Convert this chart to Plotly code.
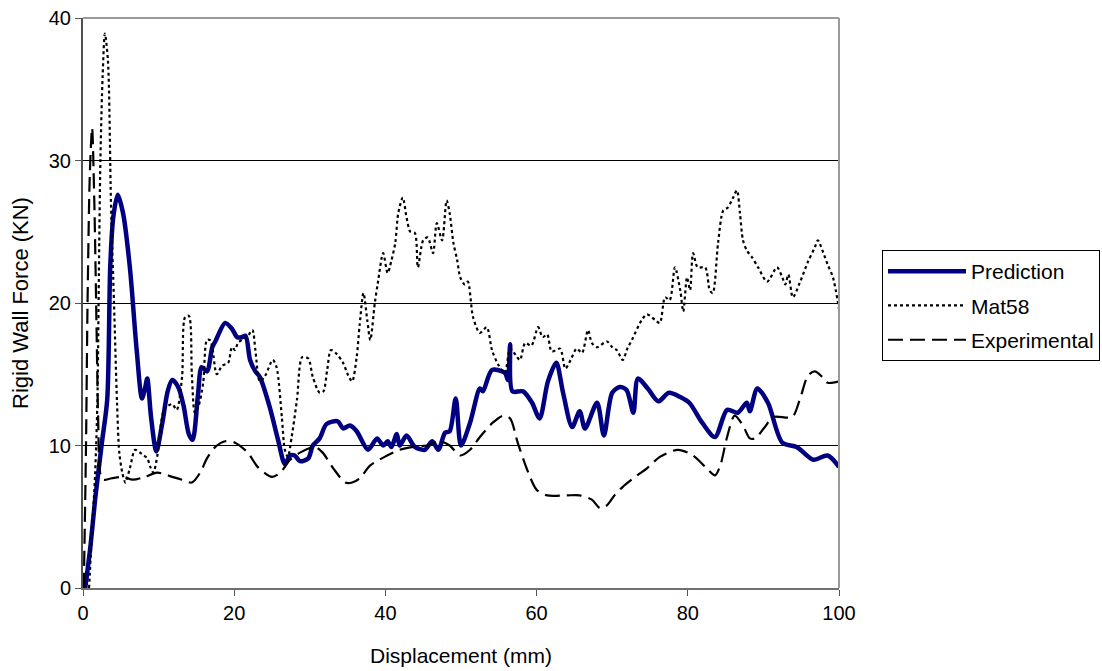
import plotly.graph_objects as go

# Rigid wall force vs displacement: model prediction, Mat58 material model, test data
pred_x = [0.3, 1.0, 1.6, 2.5, 3.2, 3.6, 4.0, 4.6, 5.3, 6.2, 7.1, 7.8, 8.2, 8.5, 9.0, 9.7,
          10.5, 11.2, 11.8, 12.6, 13.3, 14.0, 14.5, 15.2, 15.7, 16.4, 17.1, 17.5, 18.8,
          19.7, 20.4, 21.0, 21.5, 22.1, 22.8, 23.4, 24.7, 25.8, 26.7, 27.4, 28.0, 28.7,
          29.8, 30.4, 31.3, 32.2, 33.7, 34.4, 35.3, 36.2, 37.7, 38.9, 39.7, 40.3, 40.8,
          41.5, 41.9, 42.8, 43.9, 45.2, 46.2, 47.0, 47.9, 48.5, 49.3, 50.0, 51.2, 52.5,
          52.9, 54.1, 55.8, 56.2, 56.5, 56.8, 58.2, 59.4, 60.4, 61.5, 62.6, 63.5, 64.7,
          65.7, 66.4, 68.0, 68.9, 70.0, 71.0, 71.9, 72.8, 73.4, 74.7, 76.1, 77.5, 79.0,
          80.2, 81.9, 83.6, 85.2, 86.6, 87.8, 88.2, 89.2, 90.6, 92.5, 94.4, 96.6, 98.5, 100.0]
pred_y = [0.0, 3.0, 6.2, 10.2, 13.2, 22.5, 26.0, 27.6, 26.3, 22.5, 16.7, 13.3, 14.0, 14.7, 12.0, 9.6,
          11.6, 13.8, 14.6, 14.1, 12.8, 10.8, 10.4, 13.5, 15.5, 15.2, 16.9, 17.3, 18.6,
          18.2, 17.6, 17.6, 17.7, 16.0, 15.2, 14.8, 12.7, 10.4, 8.7, 9.3, 9.3, 8.9,
          9.1, 10.0, 10.5, 11.5, 11.7, 11.2, 11.4, 11.0, 9.7, 10.5, 10.0, 10.3, 9.9,
          10.8, 10.0, 10.7, 9.9, 9.7, 10.3, 9.7, 10.9, 11.0, 13.3, 10.0, 11.6, 14.0,
          13.8, 15.3, 15.1, 14.6, 17.1, 13.8, 13.8, 13.0, 11.9, 14.5, 15.8, 13.7, 11.3,
          12.4, 11.2, 13.0, 10.7, 13.7, 14.1, 13.9, 12.3, 14.7, 14.0, 13.1, 13.7, 13.4,
          13.0, 11.6, 10.6, 12.5, 12.3, 13.0, 12.4, 14.0, 13.0, 10.2, 9.9, 9.0, 9.3, 8.5]

mat_x = [0.8, 1.2, 1.6, 1.9, 2.1, 2.3, 2.6, 2.9, 3.3, 3.7, 4.1, 4.5, 4.8, 5.2, 5.6, 6.2, 6.9,
         7.8, 8.5, 8.9, 9.3, 9.9, 10.4, 10.8, 11.8, 12.4, 13.1, 13.5, 14.0, 14.4, 14.8,
         15.3, 15.9, 16.4, 16.8, 17.1, 17.7, 18.4, 19.2, 19.7, 20.1, 20.5, 21.0, 21.7,
         22.4, 22.8, 23.4, 24.1, 25.1, 25.6, 26.3, 26.7, 27.1, 27.6, 28.3, 29.0, 29.8,
         30.4, 31.3, 31.8, 32.3, 32.8, 33.6, 34.4, 35.1, 35.6, 36.2, 36.6, 37.1, 37.6,
         38.0, 38.6, 39.0, 39.7, 40.3, 40.8, 41.3, 41.7, 42.3, 42.8, 43.3, 43.9, 44.3,
         45.0, 45.6, 46.3, 46.8, 47.5, 48.1, 48.5, 49.0, 49.5, 49.9, 50.5, 50.9, 51.6,
         52.5, 53.4, 54.1, 55.0, 55.8, 56.5, 57.3, 57.8, 58.5, 59.3, 60.2, 60.8, 61.4,
         62.0, 63.1, 63.8, 64.5, 65.3, 66.0, 66.8, 67.3, 68.0, 69.3, 70.0, 70.6, 71.4,
         72.0, 72.6, 73.9, 74.6, 75.7, 76.3, 77.0, 77.6, 78.3, 79.0, 79.4, 79.9, 80.3,
         80.7, 81.3, 82.3, 82.9, 83.3, 84.0, 84.7, 85.3, 86.0, 86.5, 86.9, 87.3, 87.8,
         88.5, 89.3, 90.5, 91.8, 92.5, 92.9, 93.3, 93.9, 94.8, 95.9, 96.8, 97.2, 97.8,
         98.5, 99.2, 100.0]
mat_y = [0.0, 4.0, 8.0, 13.0, 22.0, 30.0, 36.0, 38.9, 37.0, 27.0, 20.0, 13.0, 9.5, 8.1, 7.4, 8.4, 9.7,
         9.4, 9.1, 8.5, 8.1, 9.5, 11.8, 12.6, 12.9, 12.5, 14.8, 19.0, 19.1, 15.0, 12.3,
         12.8, 14.4, 17.4, 17.4, 16.9, 15.0, 15.6, 15.8, 16.9, 16.7, 17.2, 17.4, 17.6,
         18.1, 16.7, 14.5, 14.9, 16.0, 15.5, 12.0, 9.7, 9.2, 10.6, 13.2, 16.2, 16.1,
         14.8, 13.7, 13.8, 15.3, 16.7, 16.4, 15.8, 14.9, 14.5, 16.2, 18.5, 20.7, 18.8,
         17.4, 20.0, 21.4, 23.5, 22.1, 23.0, 24.2, 26.3, 27.4, 26.0, 25.0, 24.9, 22.5,
         24.4, 24.6, 23.5, 25.6, 24.4, 27.2, 26.3, 24.2, 23.0, 21.8, 21.3, 21.5, 19.0,
         17.9, 18.3, 16.7, 15.6, 15.1, 16.8, 16.3, 16.0, 17.2, 17.0, 18.3, 17.6, 17.8,
         16.6, 16.8, 15.4, 16.0, 16.8, 16.5, 18.1, 17.2, 16.9, 17.3, 16.9, 16.7, 16.0,
         16.8, 17.4, 18.8, 19.2, 18.8, 18.6, 20.4, 20.2, 22.5, 20.9, 19.4, 21.8, 20.9,
         23.5, 22.5, 22.5, 20.9, 20.7, 24.2, 26.5, 26.7, 27.4, 27.9, 26.3, 24.4, 23.7,
         23.2, 22.5, 21.5, 22.5, 21.8, 21.3, 22.0, 20.4, 21.4, 22.9, 23.9, 24.4, 23.7,
         22.7, 21.8, 19.6]

exp_x = [0.1, 0.4, 0.6, 0.9, 1.2, 1.5, 1.8, 2.0, 2.3, 2.7, 3.8, 5.2, 6.6, 8.2, 9.8, 11.8,
         13.1, 14.4, 15.5, 16.4, 17.5, 18.8, 20.1, 21.8, 23.1, 25.0, 26.1, 27.4, 28.7,
         30.7, 31.7, 33.1, 34.7, 35.6, 36.6, 38.0, 39.9, 41.9, 43.7, 45.5, 47.2, 48.5,
         49.9, 51.2, 52.5, 54.2, 55.6, 56.5, 57.5, 58.9, 60.0, 61.4, 64.0, 65.7, 67.3,
         68.4, 69.3, 70.3, 71.4, 73.3, 74.6, 76.3, 78.7, 80.7, 82.5, 83.6, 84.3, 85.2,
         86.2, 87.3, 88.2, 88.9, 90.2, 91.3, 93.8, 94.8, 95.9, 96.8, 97.8, 98.5, 100.0]
exp_y = [0.0, 10.0, 20.0, 29.0, 32.3, 27.0, 18.0, 12.0, 8.0, 7.6, 7.7, 7.8, 7.6, 7.8, 8.1, 7.8,
         7.6, 7.4, 8.1, 9.1, 9.9, 10.3, 10.2, 9.5, 8.5, 7.8, 8.1, 9.0, 9.5,
         9.9, 9.5, 8.4, 7.4, 7.4, 7.7, 8.6, 9.2, 9.7, 9.9, 10.0, 10.3, 10.0,
         9.3, 9.7, 10.6, 11.6, 12.1, 11.9, 10.2, 8.1, 6.9, 6.5, 6.5, 6.5, 6.2,
         5.6, 5.8, 6.5, 7.1, 7.9, 8.4, 9.2, 9.7, 9.3, 8.4, 7.9, 8.6, 10.6,
         12.1, 11.4, 10.5, 10.5, 11.3, 12.0, 12.0, 13.2, 14.9, 15.2, 14.8, 14.4, 14.5]

x_ticks = [0, 20, 40, 60, 80, 100]
y_ticks = [0, 10, 20, 30, 40]

FONT = "Liberation Sans, Arial, sans-serif"

fig = go.Figure()
fig.add_trace(go.Scatter(x=pred_x, y=pred_y, name="Prediction", mode="lines",
                         line=dict(color="#000080", width=4.5, shape="spline", smoothing=0.8),
                         legendgroup="a"))
fig.add_trace(go.Scatter(x=mat_x, y=mat_y, name="Mat58", mode="lines",
                         line=dict(color="black", width=2.2, dash="3px,3px", shape="spline", smoothing=0.8),
                         legendgroup="b"))
fig.add_trace(go.Scatter(x=exp_x, y=exp_y, name="Experimental", mode="lines",
                         line=dict(color="black", width=2.2, dash="15px,7px", shape="spline", smoothing=0.8),
                         legendgroup="c"))

# plot-area frame: grey top and right edges
fig.add_shape(type="line", xref="paper", yref="paper", x0=0, x1=1, y0=1, y1=1,
              line=dict(color="#9a9a9a", width=2), layer="above")
fig.add_shape(type="line", xref="paper", yref="paper", x0=1, x1=1, y0=0, y1=1,
              line=dict(color="#9a9a9a", width=2), layer="above")

fig.update_layout(
    template="none",
    width=1102, height=671,
    margin=dict(l=83, r=263, t=18, b=83, autoexpand=False),
    paper_bgcolor="white", plot_bgcolor="white",
    font=dict(family=FONT, size=20, color="black"),
    showlegend=True,
    legend=dict(xref="container", yref="container",
                x=1100 / 1102, y=(671 - 250) / 671, xanchor="right", yanchor="top",
                bordercolor="black", borderwidth=1, bgcolor="white",
                itemwidth=78, tracegroupgap=4, traceorder="grouped",
                font=dict(family=FONT, size=21, color="black")),
    xaxis=dict(range=[0, 100], tickvals=x_ticks, ticks="outside", ticklen=6,
               tickcolor="#555", showgrid=False, zeroline=False, automargin=False,
               showline=True, linecolor="#707070", linewidth=2,
               title=dict(text="Displacement (mm)", standoff=25,
                          font=dict(family=FONT, size=21, color="black")),
               tickfont=dict(family=FONT, size=20, color="black")),
    yaxis=dict(range=[0, 40], tickvals=y_ticks, ticks="outside", ticklen=6,
               tickcolor="#555", showgrid=True, gridcolor="black", gridwidth=1,
               zeroline=False, automargin=False, showline=True, linecolor="#505050", linewidth=2,
               title=dict(text="Rigid Wall Force (KN)", standoff=14,
                          font=dict(family=FONT, size=22, color="black")),
               tickfont=dict(family=FONT, size=20, color="black")),
)

fig.write_html("out.html")
